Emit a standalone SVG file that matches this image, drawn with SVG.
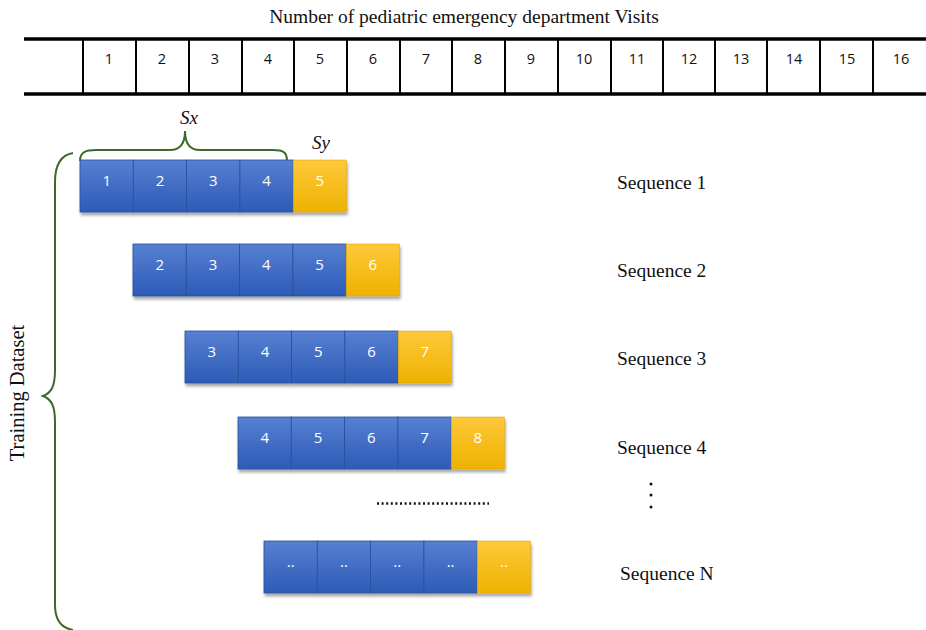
<svg xmlns="http://www.w3.org/2000/svg" width="926" height="630" viewBox="0 0 926 630">
<defs>
<linearGradient id="gb" x1="0" y1="0" x2="0" y2="1"><stop offset="0" stop-color="#5680d2"/><stop offset="1" stop-color="#2d5bb6"/></linearGradient>
<linearGradient id="gy" x1="0" y1="0" x2="0" y2="1"><stop offset="0" stop-color="#ffc83a"/><stop offset="1" stop-color="#eeb200"/></linearGradient>
<filter id="sh" x="-10%" y="-10%" width="120%" height="140%"><feDropShadow dx="1" dy="3" stdDeviation="1.5" flood-color="#000" flood-opacity="0.35"/></filter>
</defs>
<style>
.serif{font-family:"Liberation Serif","Times New Roman",serif;fill:#111}
.num{font-family:"Open Sans","Liberation Sans",sans-serif;font-size:14.5px;fill:#111;text-anchor:middle}
.cn{font-family:"Open Sans","Liberation Sans",sans-serif;font-size:15px;fill:#fff;text-anchor:middle}
.b{fill:url(#gb);stroke:#2a4f9c;stroke-width:0.8}
.y{fill:url(#gy);stroke:#d9a200;stroke-width:0.5}
.brace{fill:none;stroke:#3b6a2a;stroke-width:2}
.tl{stroke:#000;fill:none}
.seq{font-size:19.5px}
</style>
<rect width="926" height="630" fill="#fff"/>
<text class="serif" x="464" y="23" font-size="19.5" text-anchor="middle">Number of pediatric emergency department Visits</text>
<g id="table">
<line class="tl" x1="24" y1="39" x2="926" y2="39" stroke-width="3.5"/>
<line class="tl" x1="24" y1="94" x2="926" y2="94" stroke-width="3.5"/>
<g stroke="#000" stroke-width="2">
<line x1="83" y1="40" x2="83" y2="93"/><line x1="136" y1="40" x2="136" y2="93"/><line x1="189" y1="40" x2="189" y2="93"/><line x1="242" y1="40" x2="242" y2="93"/><line x1="294" y1="40" x2="294" y2="93"/><line x1="347" y1="40" x2="347" y2="93"/><line x1="400" y1="40" x2="400" y2="93"/><line x1="452" y1="40" x2="452" y2="93"/><line x1="505" y1="40" x2="505" y2="93"/><line x1="558" y1="40" x2="558" y2="93"/><line x1="611" y1="40" x2="611" y2="93"/><line x1="663" y1="40" x2="663" y2="93"/><line x1="715" y1="40" x2="715" y2="93"/><line x1="767" y1="40" x2="767" y2="93"/><line x1="820" y1="40" x2="820" y2="93"/><line x1="873" y1="40" x2="873" y2="93"/>
</g>
<text class="num" x="109" y="64">1</text><text class="num" x="162" y="64">2</text><text class="num" x="215" y="64">3</text><text class="num" x="268" y="64">4</text><text class="num" x="320" y="64">5</text><text class="num" x="373" y="64">6</text><text class="num" x="426" y="64">7</text><text class="num" x="478" y="64">8</text><text class="num" x="531" y="64">9</text><text class="num" x="584" y="64">10</text><text class="num" x="637" y="64">11</text><text class="num" x="689" y="64">12</text><text class="num" x="741" y="64">13</text><text class="num" x="794" y="64">14</text><text class="num" x="847" y="64">15</text><text class="num" x="901" y="64">16</text>
</g>
<g id="braces">
<path class="brace" d="M80,161 C80,152 86,150 96,150 L170,150 C181,150 185,143 185,131 C185,143 189,150 200,150 L273,150 C283,150 287,152 287,161"/>
<text class="serif" x="189" y="124" font-size="19" font-style="italic" text-anchor="middle">Sx</text>
<text class="serif" x="321" y="149" font-size="19" font-style="italic" text-anchor="middle">Sy</text>
<path class="brace" d="M73,153 C61,155 55,165 55,182 L55,370 C55,387 51,393 43,396 C51,399 55,405 55,422 L55,605 C55,620 61,628 73,630"/>
<text class="serif" transform="translate(24,393) rotate(-90)" font-size="20.5" text-anchor="middle">Training Dataset</text>
</g>
<g id="seq1" filter="url(#sh)">
<rect class="b" x="80" y="160" width="53.3" height="52"/><rect class="b" x="133.3" y="160" width="53.3" height="52"/><rect class="b" x="186.6" y="160" width="53.3" height="52"/><rect class="b" x="239.9" y="160" width="53.3" height="52"/><rect class="y" x="293.2" y="160" width="53.3" height="52"/>
</g>
<g><text class="cn" x="106.7" y="186">1</text><text class="cn" x="160" y="186">2</text><text class="cn" x="213.3" y="186">3</text><text class="cn" x="266.6" y="186">4</text><text class="cn" x="319.9" y="186">5</text></g>
<g id="seq2" filter="url(#sh)">
<rect class="b" x="133" y="244" width="53.3" height="52"/><rect class="b" x="186.3" y="244" width="53.3" height="52"/><rect class="b" x="239.6" y="244" width="53.3" height="52"/><rect class="b" x="292.9" y="244" width="53.3" height="52"/><rect class="y" x="346.2" y="244" width="53.3" height="52"/>
</g>
<g><text class="cn" x="159.7" y="270">2</text><text class="cn" x="213" y="270">3</text><text class="cn" x="266.3" y="270">4</text><text class="cn" x="319.6" y="270">5</text><text class="cn" x="372.9" y="270">6</text></g>
<g id="seq3" filter="url(#sh)">
<rect class="b" x="185" y="331" width="53.3" height="52"/><rect class="b" x="238.3" y="331" width="53.3" height="52"/><rect class="b" x="291.6" y="331" width="53.3" height="52"/><rect class="b" x="344.9" y="331" width="53.3" height="52"/><rect class="y" x="398.2" y="331" width="53.3" height="52"/>
</g>
<g><text class="cn" x="211.7" y="357">3</text><text class="cn" x="265" y="357">4</text><text class="cn" x="318.3" y="357">5</text><text class="cn" x="371.6" y="357">6</text><text class="cn" x="424.9" y="357">7</text></g>
<g id="seq4" filter="url(#sh)">
<rect class="b" x="238" y="417" width="53.3" height="52"/><rect class="b" x="291.3" y="417" width="53.3" height="52"/><rect class="b" x="344.6" y="417" width="53.3" height="52"/><rect class="b" x="397.9" y="417" width="53.3" height="52"/><rect class="y" x="451.2" y="417" width="53.3" height="52"/>
</g>
<g><text class="cn" x="264.7" y="443">4</text><text class="cn" x="318" y="443">5</text><text class="cn" x="371.3" y="443">6</text><text class="cn" x="424.6" y="443">7</text><text class="cn" x="477.9" y="443">8</text></g>
<g id="seqN" filter="url(#sh)">
<rect class="b" x="264" y="541" width="53.3" height="52"/><rect class="b" x="317.3" y="541" width="53.3" height="52"/><rect class="b" x="370.6" y="541" width="53.3" height="52"/><rect class="b" x="423.9" y="541" width="53.3" height="52"/><rect class="y" x="477.2" y="541" width="53.3" height="52"/>
</g>
<g><text class="cn" x="290.7" y="567">..</text><text class="cn" x="344" y="567">..</text><text class="cn" x="397.3" y="567">..</text><text class="cn" x="450.6" y="567">..</text><text class="cn" x="503.9" y="567">..</text></g>
<g id="ellipsis">
<line x1="377" y1="503.5" x2="489" y2="503.5" stroke="#111" stroke-width="2.5" stroke-dasharray="2 2.6"/>
<circle cx="651" cy="484" r="1.5" fill="#111"/><circle cx="651" cy="495" r="1.5" fill="#111"/><circle cx="651" cy="507" r="1.5" fill="#111"/>
</g>
<g id="labels">
<text class="serif seq" x="617" y="189">Sequence 1</text>
<text class="serif seq" x="617" y="277">Sequence 2</text>
<text class="serif seq" x="617" y="365">Sequence 3</text>
<text class="serif seq" x="617" y="454">Sequence 4</text>
<text class="serif seq" x="620" y="580">Sequence N</text>
</g>
</svg>
